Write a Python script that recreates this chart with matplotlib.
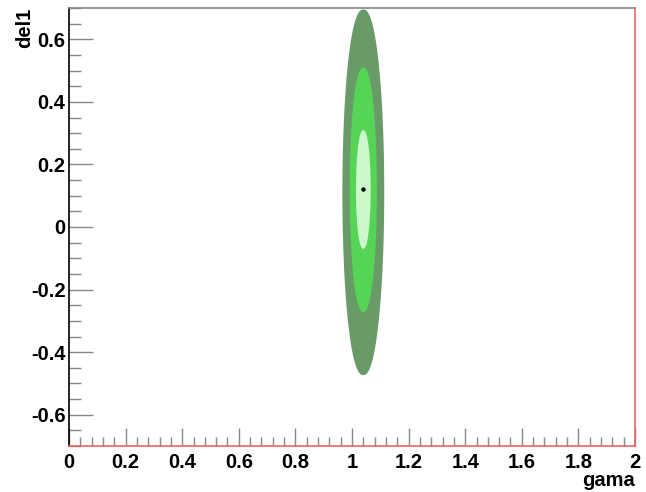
import numpy as np
import matplotlib
matplotlib.use("Agg")
import matplotlib.pyplot as plt
from matplotlib.ticker import MultipleLocator

plt.rcParams['font.family'] = ['Liberation Sans', 'DejaVu Sans']

# best-fit point
best_gama = 1.04
best_del1 = 0.12
# contour centres (del1), half-widths (gama) and half-heights (del1) for 3, 2, 1 sigma
centre_del1 = [0.111, 0.119, 0.12]
half_w = [0.074, 0.048, 0.026]
half_h = [0.585, 0.391, 0.19]
colors = ['#699b69', '#55d455', '#ccf8cc']

fig = plt.figure(figsize=(6.46, 4.92), dpi=100)
ax = fig.add_axes([69/646, 1-446/492, (635-69)/646, (446-8)/492])

t = np.linspace(-1, 1, 401)
for cy, w, h, c in zip(centre_del1, half_w, half_h, colors):
    xw = w * np.clip(1 - t**2, 0, None) ** 0.45
    yy = cy + h * t
    xs = np.concatenate([best_gama + xw, (best_gama - xw)[::-1]])
    ys = np.concatenate([yy, yy[::-1]])
    ax.fill(xs, ys, color=c, lw=0)

ax.plot([best_gama], [best_del1], 'o', color='black', ms=2.2)

ax.set_xlim(0, 2)
ax.set_ylim(-0.7, 0.7)
ax.xaxis.set_minor_locator(MultipleLocator(0.04))
ax.yaxis.set_minor_locator(MultipleLocator(0.05))

def fmt(v):
    s = f"{v:.1f}"
    if s in ("-0.0",):
        s = "0.0"
    if s.endswith(".0"):
        s = s[:-2]
    return s
xt = np.round(np.arange(0, 2.001, 0.2), 2)
ax.set_xticks(xt)
ax.set_xticklabels([fmt(v) for v in xt])
yt = np.round(np.arange(-0.6, 0.601, 0.2), 2)
ax.set_yticks(yt)
ax.set_yticklabels([fmt(v) for v in yt])

ax.tick_params(axis='x', which='major', direction='in', length=13, width=1, color='#888888',
               labelsize=14.5, pad=5, top=False)
ax.tick_params(axis='x', which='minor', direction='in', length=6.5, width=1, color='#888888', top=False)
ax.tick_params(axis='y', which='major', direction='in', length=17, width=1, color='#888888',
               labelsize=14.5, pad=2.5, right=False)
ax.tick_params(axis='y', which='minor', direction='in', length=8.5, width=1, color='#888888', right=False)
for lab in ax.get_xticklabels() + ax.get_yticklabels():
    lab.set_fontweight('bold')

ax.spines['left'].set_color('black')
ax.spines['top'].set_color('#888888')
ax.spines['right'].set_color('#e86464')
ax.spines['bottom'].set_color('#e86464')
for s in ax.spines.values():
    s.set_linewidth(1.2)

fig.text(635/646, 1-481/492, 'gama', ha='right', va='center', fontsize=14.5, fontweight='bold')
fig.text(25/646, 1-8/492, 'del1', ha='center', va='top', rotation=90, fontsize=14.5, fontweight='bold')

fig.savefig('out.png', dpi=100)
